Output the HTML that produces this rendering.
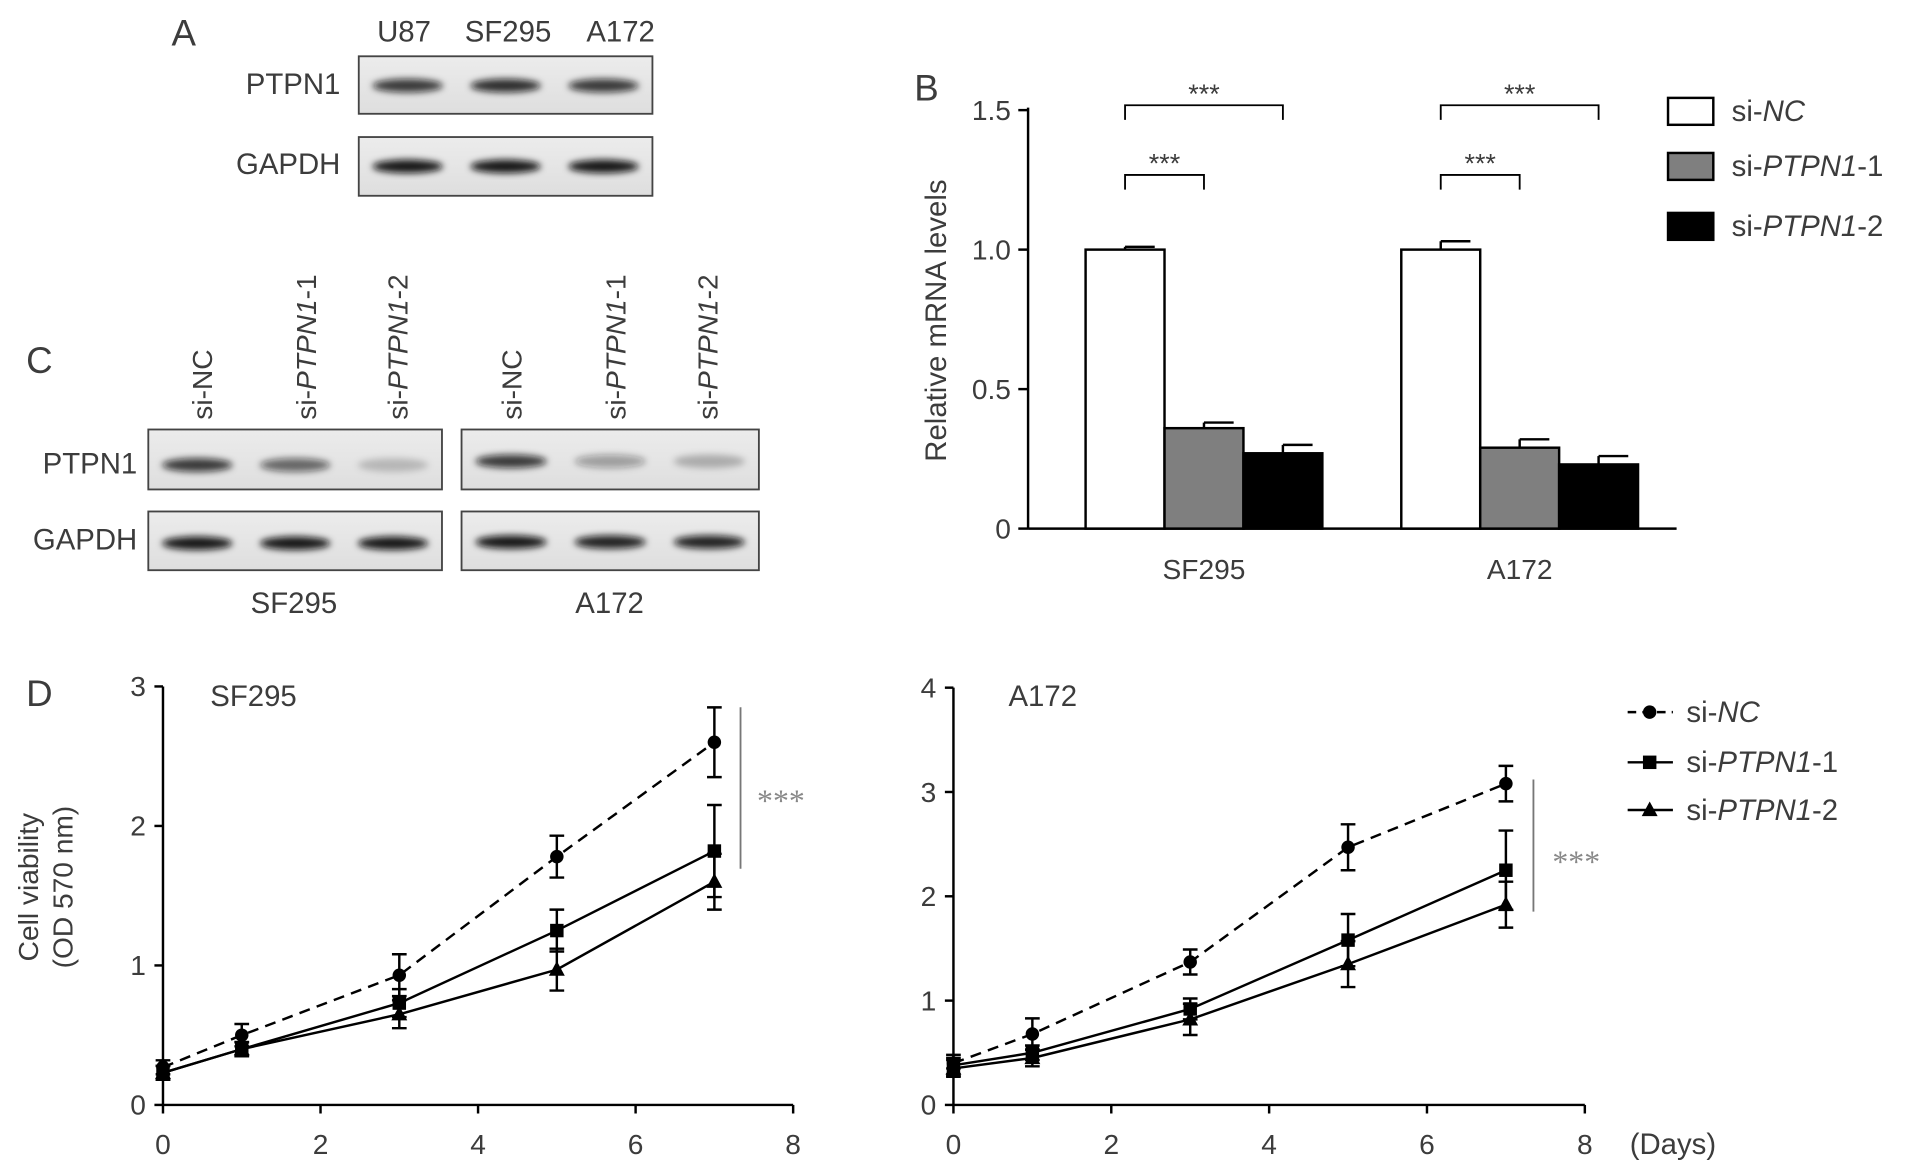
<!DOCTYPE html>
<html><head><meta charset="utf-8"><style>
html,body{margin:0;padding:0;background:#fff}
svg{display:block;font-family:"Liberation Sans",sans-serif;fill:#3c3c3c}
</style></head><body>
<svg width="1913" height="1171" viewBox="0 0 1563 957" id="fig">
<defs>
<filter id="blur" x="-20%" y="-50%" width="140%" height="200%"><feGaussianBlur stdDeviation="2.8"/></filter>
<linearGradient id="blotbg" x1="0" y1="0" x2="0" y2="1"><stop offset="0" stop-color="#ececec"/><stop offset="1" stop-color="#dedede"/></linearGradient>
</defs>
<g id="panelA">
<text x="150" y="37" font-size="30" text-anchor="middle">A</text>
<text x="330" y="34" font-size="24" text-anchor="middle">U87</text>
<text x="415" y="34" font-size="24" text-anchor="middle">SF295</text>
<text x="507" y="34" font-size="24" text-anchor="middle">A172</text>
<text x="278" y="77" font-size="24" text-anchor="end">PTPN1</text>
<text x="278" y="142" font-size="24" text-anchor="end">GAPDH</text>
<rect x="293" y="46" width="240" height="47" fill="url(#blotbg)" stroke="#444" stroke-width="1.5"/>
<rect x="293" y="112" width="240" height="48" fill="url(#blotbg)" stroke="#444" stroke-width="1.5"/>
</g>
<g id="panelC">
<text x="32" y="305" font-size="30" text-anchor="middle">C</text>
<text x="112" y="387" font-size="24" text-anchor="end">PTPN1</text>
<text x="112" y="449" font-size="24" text-anchor="end">GAPDH</text>
<rect x="121" y="351" width="240" height="49" fill="url(#blotbg)" stroke="#444" stroke-width="1.5"/>
<rect x="121" y="418" width="240" height="48" fill="url(#blotbg)" stroke="#444" stroke-width="1.5"/>
<rect x="377" y="351" width="243" height="49" fill="url(#blotbg)" stroke="#444" stroke-width="1.5"/>
<rect x="377" y="418" width="243" height="48" fill="url(#blotbg)" stroke="#444" stroke-width="1.5"/>
<text x="240" y="501" font-size="24" text-anchor="middle">SF295</text>
<text x="498" y="501" font-size="24" text-anchor="middle">A172</text>
</g>
<g id="panelB">
<text x="757" y="82" font-size="30" text-anchor="middle">B</text>
<text transform="translate(773,262) rotate(-90)" font-size="24" text-anchor="middle">Relative mRNA levels</text>
</g>
<g id="panelD">
<text x="32" y="577" font-size="30" text-anchor="middle">D</text>
<text transform="translate(31,725) rotate(-90)" font-size="23" text-anchor="middle">Cell viability</text>
<text transform="translate(59,725) rotate(-90)" font-size="23" text-anchor="middle">(OD 570 nm)</text>
<text x="1367" y="943" font-size="24" text-anchor="middle">(Days)</text>
</g>
</svg>
<script>
const NS="http://www.w3.org/2000/svg";
const svg=document.getElementById('fig');
function mk(tag,attrs,parent){const e=document.createElementNS(NS,tag);for(const k in attrs)e.setAttribute(k,attrs[k]);(parent||svg).appendChild(e);return e;}

// Western blot band intensities (0-1)
const blotA_ptpn1=[0.8,0.85,0.8];
const blotA_gapdh=[0.95,0.95,0.95];
const blotC_sf_ptpn1=[0.8,0.6,0.2];
const blotC_sf_gapdh=[0.95,0.95,0.95];
const blotC_a_ptpn1=[0.8,0.35,0.25];
const blotC_a_gapdh=[0.95,0.9,0.9];
function bands(x0,w,y,arr,parent,name){
  arr.forEach((v,i)=>{const cx=x0+w*(i+0.5)/arr.length;
    const e=mk('ellipse',{cx:cx,cy:y,rx:w/arr.length*0.36,ry:5.5,fill:'#111','fill-opacity':v,filter:'url(#blur)'},parent);
    
    });
}
const pA=document.getElementById('panelA'),pC=document.getElementById('panelC');
bands(293,240,70,blotA_ptpn1,pA,'a-ptpn1');
bands(293,240,136,blotA_gapdh,pA,'a-gapdh');
bands(121,240,380,blotC_sf_ptpn1,pC,'c-sf295-ptpn1');
bands(121,240,444,blotC_sf_gapdh,pC,'c-sf295-gapdh');
bands(377,243,377,blotC_a_ptpn1,pC,'c-a172-ptpn1');
bands(377,243,443,blotC_a_gapdh,pC,'c-a172-gapdh');
const laneLabelsC=['si-NC','si-PTPN1-1','si-PTPN1-2'];
const laneXC=[165,250,325,418,503,578];
laneXC.forEach((x,i)=>{const lab=laneLabelsC[i%3];
  const t=mk('text',{transform:`translate(${x+8},343) rotate(-90)`,'font-size':23},pC);
  
  
  if(lab==='si-NC'){t.textContent='si-NC';}
  else{t.appendChild(document.createTextNode('si-'));const ts=mk('tspan',{'font-style':'italic'},t);ts.textContent='PTPN1';t.appendChild(document.createTextNode(lab.slice(8)));}
});

// Panel B bar chart data
const bGroups=['SF295','A172'];
const bSeries=['si-NC','si-PTPN1-1','si-PTPN1-2'];
const bValues=[[1.0,0.36,0.27],[1.0,0.29,0.23]];
const bErrors=[[0.01,0.02,0.03],[0.03,0.03,0.03]];
const bTicks=[0,0.5,1.0,1.5];
const bTickLabels=['0','0.5','1.0','1.5'];
const bFills=['#fff','#7f7f7f','#000'];
const pB=document.getElementById('panelB');
const byS=v=>432-v*228;
const groupStart=[887,1145], barW=64.5;
mk('line',{x1:840,y1:88,x2:840,y2:432,stroke:'#000','stroke-width':2},pB);
mk('line',{x1:840,y1:432,x2:1370,y2:432,stroke:'#000','stroke-width':2},pB);
bTicks.forEach((t,i)=>{mk('line',{x1:832,y1:byS(t),x2:840,y2:byS(t),stroke:'#000','stroke-width':2},pB);
  const tx=mk('text',{x:826,y:byS(t)+8,'font-size':23,'text-anchor':'end'},pB);tx.textContent=bTickLabels[i];
  });
bGroups.forEach((g,gi)=>{
  bValues[gi].forEach((v,si)=>{const x=groupStart[gi]+si*barW;
    const r=mk('rect',{x:x,y:byS(v),width:barW,height:432-byS(v),fill:bFills[si],stroke:'#000','stroke-width':2},pB);
    
    
    const e=bErrors[gi][si],cx=x+barW/2;
    mk('line',{x1:cx,y1:byS(v+e),x2:cx,y2:byS(v),stroke:'#000','stroke-width':2},pB);
    mk('line',{x1:cx,y1:byS(v+e),x2:x+barW-8,y2:byS(v+e),stroke:'#000','stroke-width':2},pB);
  });
  const lbl=mk('text',{x:groupStart[gi]+barW*1.5,y:473,'font-size':23,'text-anchor':'middle'},pB);lbl.textContent=g;
  
  const x1=groupStart[gi]+barW/2;
  [[x1,x1+barW,143],[x1,x1+2*barW,86]].forEach((b,bi)=>{
    mk('path',{d:`M${b[0]},${b[2]+12}V${b[2]}H${b[1]}V${b[2]+12}`,fill:'none',stroke:'#000','stroke-width':1.5},pB);
    const s=mk('text',{x:(b[0]+b[1])/2,y:b[2]-2,'font-size':22,'text-anchor':'middle'},pB);s.textContent='***';
    
  });
});
const legY=[80,125,174];
bSeries.forEach((s,i)=>{
  const r=mk('rect',{x:1363,y:legY[i],width:37,height:22,fill:bFills[i],stroke:'#000','stroke-width':2},pB);
  
  const t=mk('text',{x:1415,y:legY[i]+19,'font-size':24},pB);
  
  if(i===0){t.appendChild(document.createTextNode('si-'));const ts=mk('tspan',{'font-style':'italic'},t);ts.textContent='NC';}
  else{t.appendChild(document.createTextNode('si-'));const ts=mk('tspan',{'font-style':'italic'},t);ts.textContent='PTPN1';t.appendChild(document.createTextNode('-'+i));}
});

// Panel D line chart data
const days=[0,1,3,5,7];
const xTicks=[0,2,4,6,8];
const sfNC=[0.27,0.5,0.93,1.78,2.6], sfNCerr=[0.05,0.08,0.15,0.15,0.25];
const sfP1=[0.23,0.4,0.73,1.25,1.82], sfP1err=[0.05,0.05,0.1,0.15,0.33];
const sfP2=[0.23,0.4,0.65,0.97,1.6], sfP2err=[0.05,0.05,0.1,0.15,0.2];
const aNC=[0.4,0.68,1.37,2.47,3.08], aNCerr=[0.05,0.15,0.12,0.22,0.17];
const aP1=[0.38,0.5,0.92,1.58,2.25], aP1err=[0.1,0.07,0.1,0.25,0.38];
const aP2=[0.35,0.45,0.82,1.35,1.92], aP2err=[0.08,0.08,0.15,0.22,0.22];
const sfYTicks=[0,1,2,3], aYTicks=[0,1,2,3,4];
const pD=document.getElementById('panelD');
function marker(type,x,y,g,name){let e;
  if(type==='circle')e=mk('circle',{cx:x,cy:y,r:5.5,fill:'#000'},g);
  else if(type==='square')e=mk('rect',{x:x-5.5,y:y-5.5,width:11,height:11,fill:'#000'},g);
  else e=mk('path',{d:`M${x},${y-7}L${x+6.5},${y+5}L${x-6.5},${y+5}Z`,fill:'#000'},g);
  }
function lineChart(x0,x1,yTop,yMax,yTicks,series,title,titleX,name){
  const g=mk('g',{},pD);
  const sx=v=>x0+(x1-x0)*v/8, sy=v=>903-(903-yTop)*v/yMax;
  mk('line',{x1:x0,y1:yTop,x2:x0,y2:903,stroke:'#000','stroke-width':2},g);
  mk('line',{x1:x0,y1:903,x2:x1,y2:903,stroke:'#000','stroke-width':2},g);
  yTicks.forEach(t=>{mk('line',{x1:x0-7,y1:sy(t),x2:x0,y2:sy(t),stroke:'#000','stroke-width':2},g);
    const tx=mk('text',{x:x0-14,y:sy(t)+8,'font-size':23,'text-anchor':'end'},g);tx.textContent=t;
    });
  xTicks.forEach(t=>{mk('line',{x1:sx(t),y1:903,x2:sx(t),y2:910,stroke:'#000','stroke-width':2},g);
    const tx=mk('text',{x:sx(t),y:943,'font-size':23,'text-anchor':'middle'},g);tx.textContent=t;
    });
  const tt=mk('text',{x:titleX,y:577,'font-size':24,'text-anchor':'middle'},g);tt.textContent=title;
  
  series.forEach((s,si)=>{
    const pts=days.map((d,i)=>sx(d)+','+sy(s.v[i])).join(' ');
    const pl=mk('polyline',{points:pts,fill:'none',stroke:'#000','stroke-width':2,'stroke-dasharray':s.dash||'none'},g);
    
    days.forEach((d,i)=>{const x=sx(d),e=s.e[i];
      mk('path',{d:`M${x-6},${sy(s.v[i]+e)}H${x+6}M${x},${sy(s.v[i]+e)}V${sy(s.v[i]-e)}M${x-6},${sy(s.v[i]-e)}H${x+6}`,stroke:'#000','stroke-width':2,fill:'none'},g);
      marker(s.m,x,sy(s.v[i]),g,'point-'+s.n+'-'+d);});
  });
}
lineChart(133,648,561,3,sfYTicks,[{v:sfNC,e:sfNCerr,m:'circle',dash:'9,6',n:'si-nc'},{v:sfP1,e:sfP1err,m:'square',n:'si-ptpn1-1'},{v:sfP2,e:sfP2err,m:'tri',n:'si-ptpn1-2'}],'SF295',207,'chart-sf295');
lineChart(779,1295,562,4,aYTicks,[{v:aNC,e:aNCerr,m:'circle',dash:'9,6',n:'si-nc'},{v:aP1,e:aP1err,m:'square',n:'si-ptpn1-1'},{v:aP2,e:aP2err,m:'tri',n:'si-ptpn1-2'}],'A172',852,'chart-a172');
[[605,578,710,638,663],[1253,637,745,1288,713]].forEach((s,i)=>{
  mk('line',{x1:s[0],y1:s[1],x2:s[0],y2:s[2],stroke:'#777','stroke-width':1.5},pD);
  const t=mk('text',{x:s[3],y:s[4],'font-size':26,'text-anchor':'middle','font-family':'Liberation Serif, serif',fill:'#888'},pD);t.textContent='***';
  
});
const legDY=[582,623,662], legDM=['circle','square','tri'];
legDY.forEach((y,i)=>{
  mk('line',{x1:1330,y1:y,x2:1367,y2:y,stroke:'#000','stroke-width':2,'stroke-dasharray':i===0?'7,5':'none'},pD);
  marker(legDM[i],1348,y,pD,'legend-marker-'+(i+1));
  const t=mk('text',{x:1378,y:y+8,'font-size':24},pD);
  
  t.appendChild(document.createTextNode('si-'));const ts=mk('tspan',{'font-style':'italic'},t);
  if(i===0)ts.textContent='NC';else{ts.textContent='PTPN1';t.appendChild(document.createTextNode('-'+i));}
});
</script>
</body></html>
